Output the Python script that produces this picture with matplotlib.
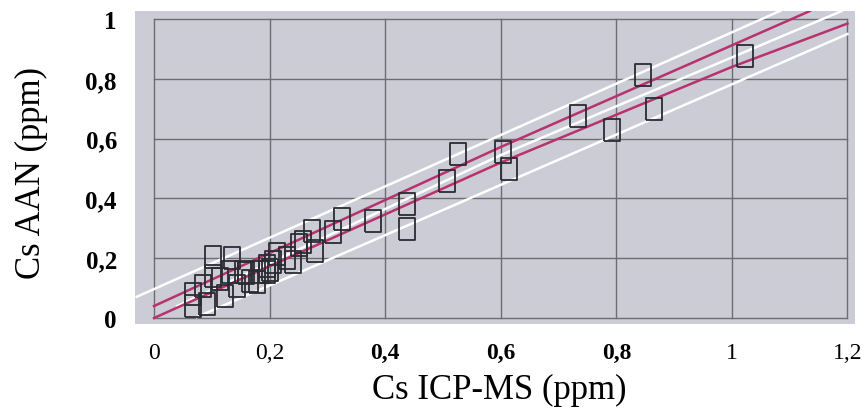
import matplotlib.pyplot as plt

plt.rcParams['font.family'] = ['Liberation Serif', 'DejaVu Serif']

# measured points (Cs ICP-MS, Cs AAN), ppm
icp = [0.067, 0.067, 0.085, 0.092, 0.102, 0.102, 0.115, 0.123, 0.131, 0.135,
       0.144, 0.154, 0.160, 0.166, 0.178, 0.183, 0.195, 0.195, 0.200, 0.206,
       0.213, 0.230, 0.240, 0.250, 0.258, 0.273, 0.279, 0.310, 0.325, 0.379,
       0.438, 0.438, 0.507, 0.526, 0.604, 0.614, 0.733, 0.792, 0.846, 0.865,
       1.022]
aan = [0.040, 0.080, 0.107, 0.047, 0.204, 0.140, 0.130, 0.074, 0.154, 0.200,
       0.107, 0.154, 0.150, 0.124, 0.120, 0.154, 0.174, 0.154, 0.160, 0.187,
       0.214, 0.200, 0.187, 0.245, 0.254, 0.291, 0.224, 0.288, 0.331, 0.324,
       0.381, 0.298, 0.458, 0.548, 0.555, 0.498, 0.676, 0.629, 0.813, 0.699,
       0.876]

# fitted lines (magenta) and bands (white)
fit_hi_x = [0.0, 0.6, 1.135]
fit_hi_y = [0.04, 0.572, 1.027]
fit_lo_x = [0.0, 0.6, 1.0, 1.2]
fit_lo_y = [0.0, 0.52, 0.84, 0.985]
band_hi_x = [-0.03, 1.083]
band_hi_y = [0.071, 1.027]
band_mid_x = [0.04, 0.6, 1.19]
band_mid_y = [0.04, 0.545, 1.027]
band_lo_x = [0.074, 1.2]
band_lo_y = [0.003, 0.95]

xticks = [0, 0.2, 0.4, 0.6, 0.8, 1.0, 1.2]
xlabels = ['0', '0,2', '0,4', '0,6', '0,8', '1', '1,2']
yticks = [0, 0.2, 0.4, 0.6, 0.8, 1.0]
ylabels = ['0', '0,2', '0,4', '0,6', '0,8', '1']

fig = plt.figure(figsize=(8.68, 4.14), dpi=100)
ax = fig.add_axes([0.1555, 0.215, 0.8295, 0.756])
ax.set_facecolor('#cbccd5')
for s in ax.spines.values():
    s.set_visible(False)

ax.set_xlim(-0.033, 1.213)
ax.set_ylim(-0.02, 1.027)

# grid frame only between 0..1.2 and 0..1
for x in xticks:
    ax.plot([x, x], [0, 1], color='#6c6c72', lw=1.0, zorder=1)
for y in yticks:
    ax.plot([0, 1.2], [y, y], color='#6c6c72', lw=1.0, zorder=1)

for xs, ys in [(band_hi_x, band_hi_y), (band_mid_x, band_mid_y), (band_lo_x, band_lo_y)]:
    ax.plot(xs, ys, color='white', lw=1.8, zorder=2, clip_on=True)
for xs, ys in [(fit_hi_x, fit_hi_y), (fit_lo_x, fit_lo_y)]:
    ax.plot(xs, ys, color='#b8326e', lw=1.8, zorder=3, clip_on=True)

rect = [(-0.7, -1), (0.7, -1), (0.7, 1), (-0.7, 1), (-0.7, -1)]
ax.plot(icp, aan, linestyle='none', marker=rect, markersize=15.5,
        markerfacecolor='none', markeredgecolor='#2b2b33', markeredgewidth=1.3,
        zorder=4)

ax.set_xticks(xticks)
ax.set_xticklabels(xlabels, fontsize=17)
for lab, t in zip(ax.get_xticklabels(), xlabels):
    if t in ('0,4', '0,6', '0,8'):
        lab.set_fontweight('bold')
ax.set_yticks(yticks)
ax.set_yticklabels(ylabels, fontsize=18, fontweight='bold')
ax.tick_params(length=0, pad=13)

fig.text(0.575, 0.058, 'Cs ICP-MS (ppm)', fontsize=25, ha='center', va='center')
fig.text(0.036, 0.582, 'Cs AAN (ppm)', fontsize=25, ha='center', va='center',
         rotation=90)

fig.savefig('out.png', dpi=100)
